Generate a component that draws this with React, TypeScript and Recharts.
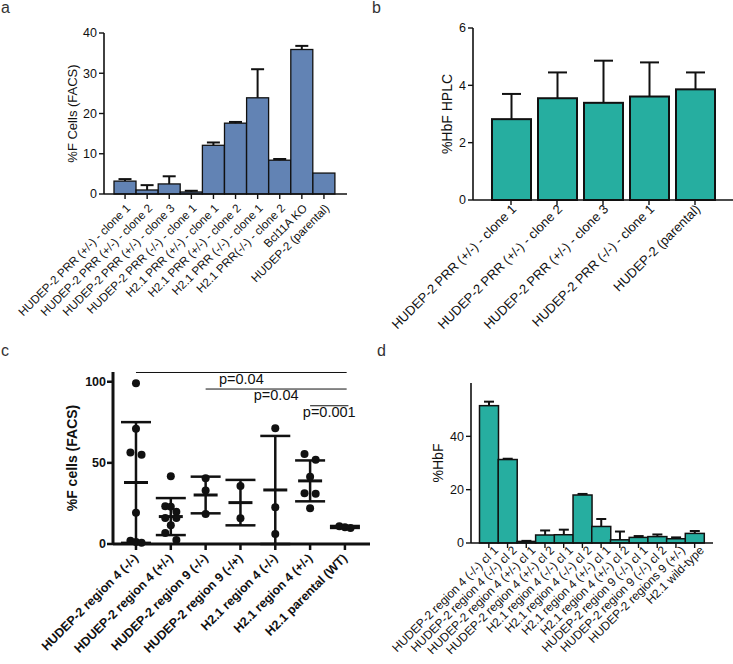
import React from 'react';
import { BarChart, Bar, XAxis, YAxis, ErrorBar, ScatterChart, Scatter, ReferenceLine } from 'recharts';

const FONT = '"Liberation Sans", Arial, Helvetica, sans-serif';
const INK = '#111';
const BLUE = '#6283b4';
const TEAL = '#26aea0';

// panel a: %F cells (FACS)
const aLabels = [
  'HUDEP-2 PRR (+/-) - clone 1',
  'HUDEP-2 PRR (+/-) - clone 2',
  'HUDEP-2 PRR (+/-) - clone 3',
  'HUDEP-2 PRR (-/-) - clone 1',
  'H2.1 PRR (+/-) - clone 1',
  'H2.1 PRR (+/-) - clone 2',
  'H2.1 PRR (-/-) - clone 1',
  'H2.1 PRR(-/-) - clone 2',
  'Bcl11A KO',
  'HUDEP-2 (parental)',
];
const aValues = [3.2, 1.0, 2.5, 0.5, 12.1, 17.6, 23.9, 8.4, 35.9, 5.2];
const aErrors = [0.5, 1.2, 1.9, 0.3, 0.7, 0.3, 7.1, 0.3, 0.9, 0];
const aTicks = [0, 10, 20, 30, 40];

// panel b: %HbF HPLC
const bLabels = [
  'HUDEP-2 PRR (+/-) - clone 1',
  'HUDEP-2 PRR (+/-) - clone 2',
  'HUDEP-2 PRR (+/-) - clone 3',
  'HUDEP-2 PRR (-/-) - clone 1',
  'HUDEP-2 (parental)',
];
const bValues = [2.82, 3.55, 3.39, 3.61, 3.86];
const bErrors = [0.88, 0.9, 1.47, 1.19, 0.59];
const bTicks = [0, 2, 4, 6];

// panel c: individual points, mean and SD
const cLabels = [
  'HUDEP-2 region 4 (-/-)',
  'HDUEP-2 region 4 (+/-)',
  'HUDEP-2 region 9 (-/-)',
  'HUDEP-2 region 9 (-/+)',
  'H2.1 region 4 (-/-)',
  'H2.1 region 4 (+/-)',
  'H2.1 parental (WT)',
];
const cPoints = [
  [99, 71, 56.4, 55, 19.3, 2, 1.2, 0.8],
  [41.8, 23.2, 23, 19.8, 16, 16, 11.5, 6.8, 2.5],
  [40.5, 32.9, 18.5],
  [35.8, 15.8],
  [71.4, 22.6, 6.2],
  [55.4, 51.9, 41.5, 31.3, 30.9, 22],
  [11, 10.3, 9.9],
];
const cMeans = [37.9, 16.9, 30.2, 25.5, 33.3, 38.9, 10.5];
const cSD = [37.2, 11.4, 11.3, 14, 33.3, 12.6, 0.6];
const cTicks = [0, 50, 100];
const cPvalues = ['p=0.04', 'p=0.04', 'p=0.001'];
const cCompareFrom = [0, 2, 5];
const cCompareTo = 6;
const cBracketY = [105.7, 95.5, 85.2];

// panel d: %HbF
const dLabels = [
  'HUDEP-2 region 4 (-/-) cl 1',
  'HUDEP-2 region 4 (-/-) cl 2',
  'HUDEP-2 region 4 (+/-) cl 1',
  'HUDEP-2 region 4 (+/-) cl 2',
  'H2.1 region 4 (-/-) cl 1',
  'H2.1 region 4 (-/-) cl 2',
  'H2.1 region 4 (+/-) cl 1',
  'H2.1 region 4 (+/-) cl 2',
  'HUDEP-2 region 9 (-/-) cl 1',
  'HUDEP-2 region 9 (-/-) cl 2',
  'HUDEP-2 regions 9 (+/-)',
  'H2.1 wild-type',
];
const dValues = [51.5, 31.3, 0.6, 3.0, 3.1, 18.0, 6.2, 1.2, 2.1, 2.4, 1.6, 3.6];
const dErrors = [1.5, 0.3, 0.2, 1.7, 1.9, 0.4, 2.8, 3.1, 0.5, 0.8, 0.5, 0.9];
const dTicks = [0, 20, 40];

const barRows = (labels: string[], values: number[], errors: number[]) =>
  labels.map((name, i) => ({ name, value: values[i], err: errors[i] }));

// bar with an upward-only SD whisker (the whisker uses the bar's own pixels-per-unit)
const barWithWhisker = (cap: number, sw: number) => (props: any) => {
  const { x, y, width, height, fill, stroke, strokeWidth, payload } = props;
  const perUnit = payload.value ? height / payload.value : 0;
  const top = y - payload.err * perUnit;
  const cx = x + width / 2;
  return (
    <g>
      <rect x={x} y={y} width={width} height={height} fill={fill} stroke={stroke} strokeWidth={strokeWidth} />
      {payload.err > 0 && (
        <g stroke={INK} strokeWidth={sw}>
          <line x1={cx} x2={cx} y1={y} y2={top} />
          <line x1={cx - cap / 2} x2={cx + cap / 2} y1={top} y2={top} />
        </g>
      )}
    </g>
  );
};

// spread points that sit at about the same height side by side (column scatter)
const spread = (groups: number[][], unitsPerPx: number) => {
  const out: { x: number; y: number }[] = [];
  groups.forEach((vals, g) => {
    const sorted = [...vals].sort((p, q) => q - p);
    let row: number[] = [];
    const flush = () => {
      row.forEach((v, k) => {
        const off = row.length === 1 ? 0 : -0.16 + (0.32 * k) / (row.length - 1);
        out.push({ x: g + off, y: v });
      });
      row = [];
    };
    sorted.forEach((v) => {
      if (row.length && row[0] - v > 7 * unitsPerPx) flush();
      row.push(v);
    });
    flush();
  });
  return out;
};

const slantTick = (size: number, dx: number, dy: number, weight = 400, names?: string[]) => (props: any) => {
  const { x, y, payload } = props;
  const text = names ? names[payload.value] : payload.value;
  return (
    <g transform={`translate(${x + dx},${y + dy})`}>
      <text textAnchor="end" transform="rotate(-45)" fontSize={size} fontWeight={weight} fill={INK} fontFamily={FONT}>
        {text}
      </text>
    </g>
  );
};

const axisLine = { stroke: INK, strokeWidth: 1.6 };
const tickLine = { stroke: INK, strokeWidth: 1.4 };
const yTick = { fontSize: 12.5, fill: INK, fontFamily: FONT };
const letter = (ch: string, left: number, top: number) => (
  <div style={{ position: 'absolute', left, top, fontSize: 16, lineHeight: 1, color: '#333', fontFamily: FONT }}>{ch}</div>
);

const yLabel = (value: string, offset: number, size: number, extra: object = {}) => ({
  value,
  angle: -90,
  position: 'insideLeft' as const,
  offset,
  style: { textAnchor: 'middle', fontSize: size, fill: INK, fontFamily: FONT, ...extra },
});

const PanelA = () => (
  <BarChart width={370} height={340} data={barRows(aLabels, aValues, aErrors)} barCategoryGap={0}
    margin={{ top: 33, right: 23, bottom: 6, left: 0 }}>
    <XAxis dataKey="name" interval={0} height={140} padding={{ left: 10, right: 12 }} axisLine={axisLine}
      tickLine={tickLine} tickSize={5} tick={slantTick(11.7, 6, 8)} />
    <YAxis domain={[0, 40]} ticks={aTicks} width={104} axisLine={axisLine} tickLine={tickLine}
      tickSize={5} tickMargin={2} tick={yTick} label={yLabel('%F Cells (FACS)', 72, 13)} />
    <Bar dataKey="value" fill={BLUE} stroke={INK} strokeWidth={1.3} isAnimationActive={false}
      shape={barWithWhisker(13, 2)} />
  </BarChart>
);

const PanelB = () => (
  <BarChart width={363} height={340} data={barRows(bLabels, bValues, bErrors)} barSize={39}
    margin={{ top: 28, right: 0, bottom: 6, left: 0 }}>
    <XAxis dataKey="name" interval={0} height={134} padding={{ left: 15, right: 15 }} axisLine={axisLine}
      tickLine={tickLine} tickSize={5} tick={slantTick(13, 6, 3)} />
    <YAxis domain={[0, 6]} ticks={bTicks} width={103} axisLine={axisLine} tickLine={tickLine}
      tickSize={5} tickMargin={2} tick={yTick} label={yLabel('%HbF HPLC', 77, 14)} />
    <Bar dataKey="value" fill={TEAL} stroke={INK} strokeWidth={2} isAnimationActive={false}
      shape={barWithWhisker(19, 2)} />
  </BarChart>
);

const cDots = spread(cPoints, 106 / 172);
const cMeanRows = cMeans.map((y, i) => ({ x: i, y, sd: cSD[i] }));

const PanelC = () => (
  <ScatterChart width={370} height={314} margin={{ top: 22, right: 0, bottom: 0, left: 0 }}>
    <XAxis type="number" dataKey="x" domain={[-0.66, 6.72]} ticks={[0, 1, 2, 3, 4, 5, 6]} interval={0} height={120}
      allowDataOverflow axisLine={{ stroke: INK, strokeWidth: 3 }} tickLine={{ stroke: INK, strokeWidth: 2.5 }} tickSize={6}
      tick={slantTick(12.5, 3, 7, 700, cLabels)} />
    <YAxis type="number" dataKey="y" domain={[0, 106]} ticks={cTicks} width={113} axisLine={{ stroke: INK, strokeWidth: 3 }}
      tickLine={{ stroke: INK, strokeWidth: 2.5 }} tickSize={6} tickMargin={1}
      tick={{ ...yTick, fontWeight: 700 }} label={yLabel('%F cells (FACS)', 72, 14, { fontWeight: 700 })} />
    {cPvalues.map((p, i) => (
      <ReferenceLine key={i} ifOverflow="visible" stroke={INK} strokeWidth={1}
        segment={[{ x: cCompareFrom[i], y: cBracketY[i] }, { x: cCompareTo + (i === 2 ? 0.1 : 0.05), y: cBracketY[i] }]}
        label={{ value: p, position: 'bottom', offset: 1, fontSize: 14.5, fill: INK, fontFamily: FONT }} />
    ))}
    <Scatter data={cDots} isAnimationActive={false}
      shape={(pr: any) => <circle cx={pr.cx} cy={pr.cy} r={4} fill={INK} />} />
    <Scatter data={cMeanRows} isAnimationActive={false}
      shape={(pr: any) => <line x1={pr.cx - 12} x2={pr.cx + 12} y1={pr.cy} y2={pr.cy} stroke={INK} strokeWidth={3} />}>
      <ErrorBar dataKey="sd" direction="y" width={15} stroke={INK} strokeWidth={2.5} />
    </Scatter>
  </ScatterChart>
);

const PanelD = () => (
  <BarChart width={363} height={314} data={barRows(dLabels, dValues, dErrors)} barCategoryGap={0}
    margin={{ top: 33, right: 20, bottom: 0, left: 0 }}>
    <XAxis dataKey="name" interval={0} height={121} padding={{ left: 8.5, right: 9 }} axisLine={axisLine}
      tickLine={tickLine} tickSize={5} tick={slantTick(12, 10, 1)} />
    <YAxis domain={[0, 60]} ticks={dTicks} width={101} axisLine={axisLine} tickLine={tickLine}
      tickSize={5} tickMargin={2} tick={yTick} label={yLabel('%HbF', 68, 14)} />
    <Bar dataKey="value" fill={TEAL} stroke={INK} strokeWidth={1.5} isAnimationActive={false}
      shape={barWithWhisker(10, 2)} />
  </BarChart>
);

export default function App() {
  return (
    <div style={{ position: 'absolute', left: 0, top: 0, width: 733, height: 664, background: '#fff', fontFamily: FONT, overflow: 'hidden' }}>
      <div style={{ position: 'absolute', left: 0, top: 0 }}><PanelA /></div>
      <div style={{ position: 'absolute', left: 370, top: 0 }}><PanelB /></div>
      <div style={{ position: 'absolute', left: 0, top: 350 }}><PanelC /></div>
      <div style={{ position: 'absolute', left: 370, top: 350 }}><PanelD /></div>
      {letter('a', 1, 0)}
      {letter('b', 372, 0)}
      {letter('c', 1, 343)}
      {letter('d', 377, 343)}
    </div>
  );
}
